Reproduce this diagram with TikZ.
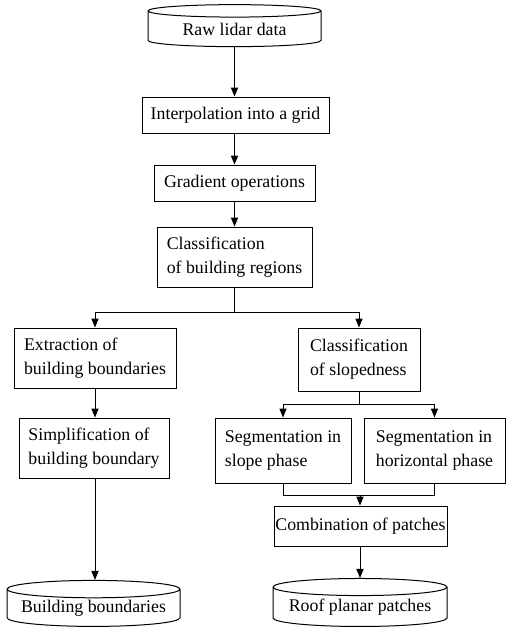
\documentclass[tikz,border=0pt]{standalone}
\usepackage{fontspec}
\setmainfont{Liberation Serif}
\usetikzlibrary{shapes.geometric,arrows.meta,positioning,calc}

\begin{document}
\begin{tikzpicture}[x=0.5pt, y=-0.5pt, font=\fontsize{8.9}{12}\selectfont,
    procbox/.style={draw, rectangle, align=left, inner sep=0pt, line width=0.5pt},
    datastore/.style={draw, cylinder, shape border rotate=90, aspect=0.12,
        inner sep=0pt, align=center, line width=0.5pt},
    flow/.style={-{Triangle[length=4.5pt, width=3.6pt]}, line width=0.5pt}]
    \useasboundingbox (0,0) rectangle (505,632);

    % main trunk
    \node[datastore, minimum width=86.5pt, minimum height=21pt] (raw) at (234.5,29) {Raw lidar data};
    \node[procbox, minimum width=93.5pt, minimum height=18pt] (interp) at (235.5,115) {Interpolation into a grid};
    \node[procbox, minimum width=80.5pt, minimum height=18pt] (grad) at (234.5,183) {Gradient operations};
    \node[procbox, minimum width=77.5pt, minimum height=30pt] (classreg) at (234.5,257) {Classification\\of building regions};

    % left branch
    \node[procbox, minimum width=81pt, minimum height=30pt] (extract) at (95,358) {Extraction of\\building boundaries};
    \node[procbox, minimum width=75pt, minimum height=30pt] (simpl) at (94,448) {Simplification of\\building boundary};
    \node[datastore, minimum width=86.5pt, minimum height=23pt] (bldbound) at (93.5,608) {Building boundaries};

    % right branch
    \node[procbox, minimum width=61pt, minimum height=31.5pt] (classslope) at (359,359.5) {Classification\\of slopedness};
    \node[procbox, minimum width=68pt, minimum height=32.5pt] (segslope) at (283,450.5) {Segmentation in\\slope phase};
    \node[procbox, minimum width=70.5pt, minimum height=32.5pt] (seghor) at (434.5,450.5) {Segmentation in\\horizontal phase};
    \node[procbox, minimum width=86.5pt, minimum height=20pt] (comb) at (360.5,526) {Combination of patches};
    \node[datastore, minimum width=87pt, minimum height=24pt] (roof) at (360,607) {Roof planar patches};

    % junctions
    \coordinate (split1) at (234.5,312);
    \coordinate (split2) at (359,404);
    \coordinate (join) at (360,495);

    % connectors
    \draw[flow] (raw.south) -- (raw.south |- interp.north);
    \draw[flow] (raw.south |- interp.south) -- (raw.south |- grad.north);
    \draw[flow] (grad) -- (classreg);
    \draw[line width=0.5pt] (classreg.south) -- (split1);
    \draw[flow] (split1) -| (extract.north);
    \draw[flow] (split1) -| (classslope.north);
    \draw[flow] (extract.south) -- (extract.south |- simpl.north);
    \draw[flow] (extract.south |- simpl.south) -- (extract.south |- bldbound.north);
    \draw[line width=0.5pt] (classslope.south) -- (split2);
    \draw[flow] (split2) -| (segslope.north);
    \draw[flow] (split2) -| (seghor.north);
    \draw[line width=0.5pt] (segslope.south) |- (join);
    \draw[line width=0.5pt] (seghor.south) |- (join);
    \draw[flow] (join) -- (join |- comb.north);
    \draw[flow] (join |- comb.south) -- (join |- roof.north);
\end{tikzpicture}
\end{document}
